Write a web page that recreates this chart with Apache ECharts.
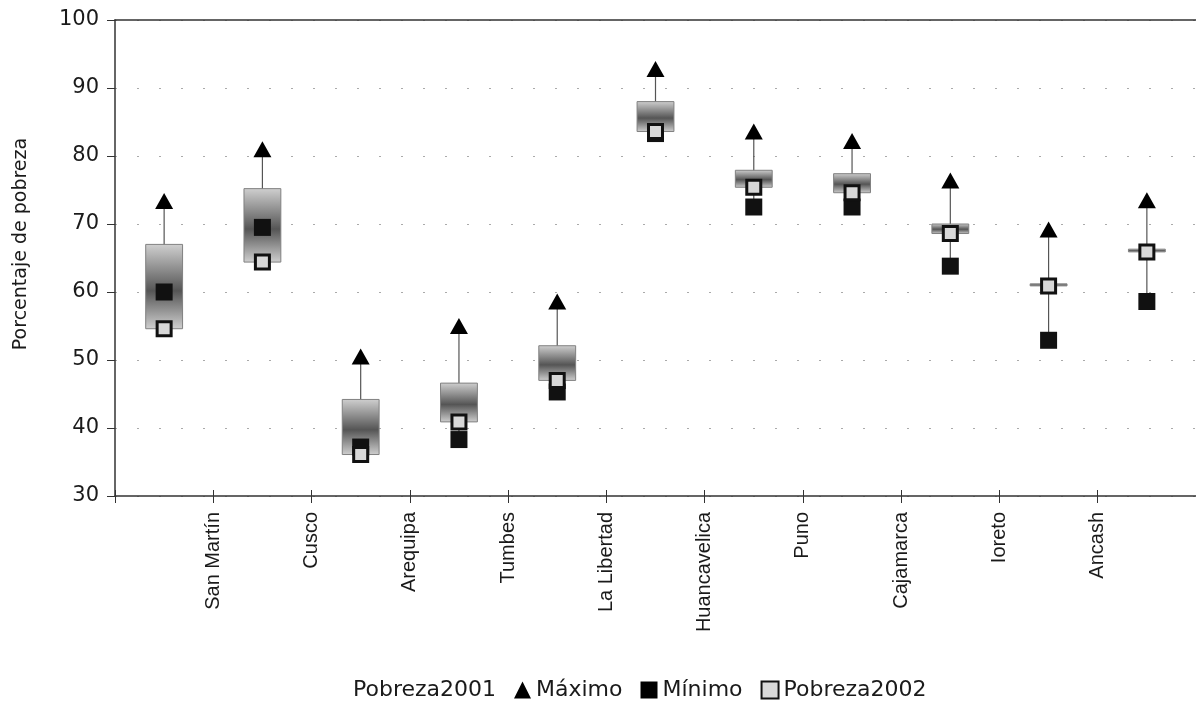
<!DOCTYPE html>
<html>
<head>
<meta charset="utf-8">
<script src="https://cdn.jsdelivr.net/npm/echarts@6/dist/echarts.min.js"></script>
<style>
html,body{margin:0;padding:0;background:#fff;}
#chart{width:1196px;height:710px;}
</style>
</head>
<body>
<div id="chart"></div>
<script>
// Region labels shown on the axis (placed at the tick marks between boxes, as in the original)
const regionLabels = ['San Martín', 'Cusco', 'Arequipa', 'Tumbes', 'La Libertad', 'Huancavelica', 'Puno', 'Cajamarca', 'Ioreto', 'Ancash'];
// Box positions (category slots along the x axis)
const slots = [0.5, 1.5, 2.5, 3.5, 4.5, 5.5, 6.5, 7.5, 8.5, 9.5, 10.5];
// Series values (%)
const pobreza2001 = [67.0, 75.2, 44.2, 46.6, 52.1, 88.0, 77.9, 77.4, 70.0, 61.2, 66.3];
const pobreza2002 = [54.6, 64.4, 36.1, 40.9, 47.0, 83.6, 75.4, 74.6, 68.6, 60.9, 65.9];
const maximo      = [73.4, 81.0, 50.5, 55.0, 58.6, 92.8, 83.6, 82.2, 76.4, 69.2, 73.5];
const minimo      = [60.0, 69.5, 37.2, 38.3, 45.3, 83.3, 72.5, 72.5, 63.8, 52.9, 58.6];
// Y axis ticks
const yTicks = [30, 40, 50, 60, 70, 80, 90, 100];

const chart = echarts.init(document.getElementById('chart'));

const boxData = slots.map((x, i) => [x, pobreza2001[i], pobreza2002[i]]);
const hiloData = slots.map((x, i) => [x, minimo[i], maximo[i]]);
const maxData = slots.map((x, i) => [x, maximo[i]]);
const minData = slots.map((x, i) => [x, minimo[i]]);
const p02Data = slots.map((x, i) => [x, pobreza2002[i]]);

const boxGradient = new echarts.graphic.LinearGradient(0, 0, 0, 1, [
  {offset: 0, color: '#d0d0d0'},
  {offset: 0.55, color: '#555'},
  {offset: 1, color: '#d0d0d0'}
]);

const option = {
  backgroundColor: '#fff',
  animation: false,
  grid: {left: 115, right: 0, top: 20, bottom: 214},
  legend: {
    left: 326,
    bottom: 4,
    itemWidth: 17,
    itemHeight: 17,
    itemGap: 18,
    textStyle: {fontFamily: 'DejaVu Sans', fontSize: 22, color: '#1a1a1a'},
    data: [
      {name: 'Pobreza2001', icon: 'none'},
      {name: 'Máximo', icon: 'triangle', itemStyle: {color: '#000'}},
      {name: 'Mínimo', icon: 'rect', itemStyle: {color: '#000'}},
      {name: 'Pobreza2002', icon: 'rect', itemStyle: {color: '#d8d8d8', borderColor: '#111', borderWidth: 2}}
    ]
  },
  xAxis: [{
    type: 'value',
    min: 0, max: 11, interval: 1,
    axisLine: {show: true, lineStyle: {color: '#333', width: 1.5}},
    axisTick: {show: true, length: 7, lineStyle: {color: '#333', width: 1}},
    splitLine: {show: false},
    axisLabel: {
      rotate: 90,
      margin: 16,
      fontFamily: 'Liberation Sans',
      fontSize: 20,
      color: '#1a1a1a',
      formatter: v => (v >= 1 && v <= regionLabels.length) ? regionLabels[v - 1] : ''
    }
  }, {
    type: 'value',
    position: 'top',
    min: 0, max: 11,
    axisLine: {show: true, lineStyle: {color: '#333', width: 1.5}},
    axisTick: {show: false},
    axisLabel: {show: false},
    splitLine: {show: false}
  }, {
    type: 'value',
    position: 'bottom',
    offset: 0,
    min: 0, max: 11, interval: 1,
    axisLine: {show: false},
    axisTick: {show: true, inside: true, length: 6, lineStyle: {color: '#333', width: 1}},
    axisLabel: {show: false},
    splitLine: {show: false}
  }],
  yAxis: {
    type: 'value',
    min: yTicks[0], max: yTicks[yTicks.length - 1], interval: 10,
    name: 'Porcentaje de pobreza',
    nameLocation: 'middle',
    nameGap: 84,
    nameRotate: 90,
    nameTextStyle: {fontFamily: 'DejaVu Sans', fontSize: 19, color: '#1a1a1a', padding: [0, 0, 0, 28]},
    axisLine: {show: true, lineStyle: {color: '#333', width: 1.5}},
    axisTick: {show: true, length: 8, lineStyle: {color: '#333'}},
    axisLabel: {margin: 16, fontFamily: 'DejaVu Sans', fontSize: 21, color: '#1a1a1a'},
    splitLine: {show: true, lineStyle: {color: '#aaa', type: [2, 20], width: 1}}
  },
  series: [
    {
      name: 'hilo',
      type: 'custom',
      z: 1,
      silent: true,
      data: hiloData,
      renderItem: (params, api) => {
        const a = api.coord([api.value(0), api.value(1)]);
        const b = api.coord([api.value(0), api.value(2)]);
        return {type: 'line', shape: {x1: a[0], y1: a[1], x2: b[0], y2: b[1]}, style: {stroke: '#555', lineWidth: 1.2}};
      }
    },
    {
      name: 'Pobreza2001',
      type: 'custom',
      z: 2,
      data: boxData,
      renderItem: (params, api) => {
        const x = api.value(0);
        const p1 = api.coord([x, api.value(1)]);
        const p2 = api.coord([x, api.value(2)]);
        const w = api.size([1, 0])[0] * 0.375;
        const y0 = Math.min(p1[1], p2[1]);
        const h = Math.max(Math.abs(p2[1] - p1[1]), 2);
        return {
          type: 'rect',
          shape: {x: p1[0] - w / 2, y: y0, width: w, height: h},
          style: {fill: boxGradient, stroke: '#808080', lineWidth: 1}
        };
      }
    },
    {
      name: 'Mínimo',
      type: 'scatter',
      z: 3,
      symbol: 'rect',
      symbolSize: 17,
      itemStyle: {color: '#111', opacity: 1},
      data: minData
    },
    {
      name: 'Pobreza2002',
      type: 'scatter',
      z: 4,
      symbol: 'rect',
      symbolSize: 14,
      itemStyle: {color: '#d8d8d8', borderColor: '#111', borderWidth: 3, opacity: 1},
      data: p02Data
    },
    {
      name: 'Máximo',
      type: 'scatter',
      z: 5,
      symbol: 'triangle',
      symbolSize: [18, 16],
      itemStyle: {color: '#000', opacity: 1},
      data: maxData
    }
  ]
};
chart.setOption(option);
</script>
</body>
</html>
